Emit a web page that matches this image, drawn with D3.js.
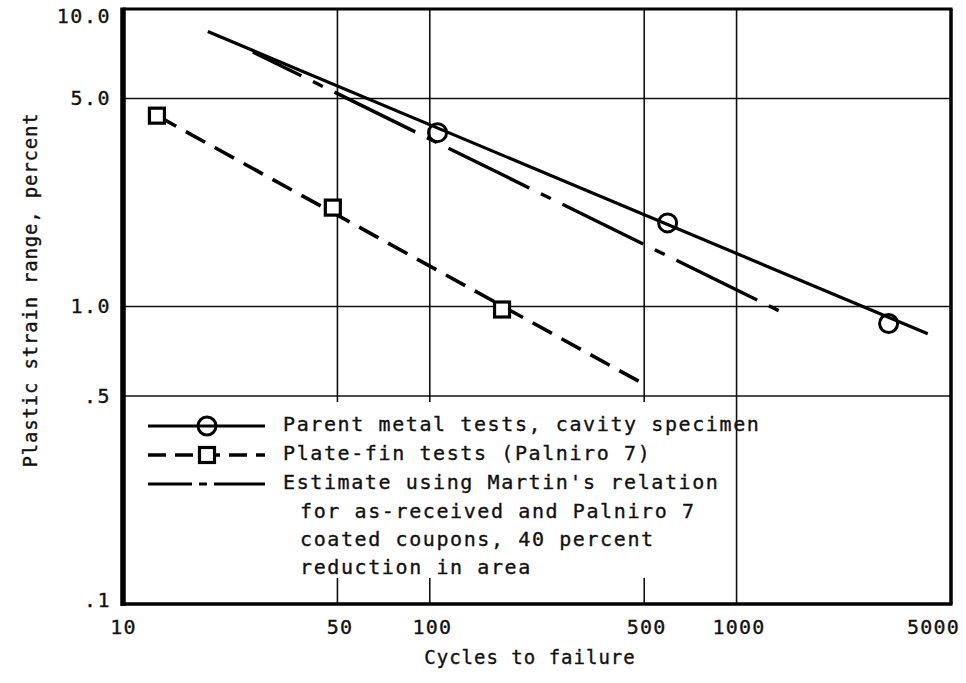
<!DOCTYPE html>
<html>
<head>
<meta charset="utf-8">
<script src="https://cdn.jsdelivr.net/npm/d3@7"></script>
<style>
  html, body { margin: 0; padding: 0; background: #fff; }
  svg { display: block; }
  text { font-family: "DejaVu Sans Mono", "Liberation Mono", monospace; fill: #111; stroke: #111; stroke-width: 0.35px; }
</style>
</head>
<body>
<svg id="chart" width="966" height="683"></svg>
<script>
// Axis ticks
const xTickValues = [10, 50, 100, 500, 1000, 5000];
const xTickLabels = ["10", "50", "100", "500", "1000", "5000"];
const yTickValues = [10, 5, 1, 0.5, 0.1];
const yTickLabels = ["10.0", "5.0", "1.0", ".5", ".1"];

// Parent metal tests, cavity specimen
const parentCycles = [106, 596, 3130];
const parentStrain = [3.84, 1.91, 0.877];
const parentFitCycles = [18.9, 4200];
const parentFitStrain = [8.4, 0.81];

// Plate-fin tests (Palniro 7)
const plateCycles = [12.9, 48.3, 172];
const plateStrain = [4.38, 2.15, 0.977];
const plateFitCycles = [12.9, 501];
const plateFitStrain = [4.38, 0.547];

// Estimate using Martin's relation
const estCycles = [26.5, 1455];
const estStrain = [7.17, 0.94];

const legendLines = [
  "Parent metal tests, cavity specimen",
  "Plate-fin tests (Palniro 7)",
  "Estimate using Martin's relation",
  "for as-received and Palniro 7",
  "coated coupons, 40 percent",
  "reduction in area"
];

const svg = d3.select("#chart");
const plotLeft = 123, plotRight = 951, plotTop = 9, plotBottom = 604;

const x = d3.scaleLog().domain([10, 5000]).range([plotLeft, plotRight]);
const y = d3.scaleLog().domain([0.1, 10]).range([plotBottom, plotTop]);

const zip = (a, b) => a.map((v, i) => [v, b[i]]);
const line = d3.line().x(d => x(d[0])).y(d => y(d[1]));

// Grid lines
const grid = svg.append("g").attr("stroke", "#111").attr("stroke-width", 1.6);
[5, 1, 0.5].forEach(v => {
  grid.append("line").attr("x1", plotLeft).attr("x2", plotRight)
    .attr("y1", y(v)).attr("y2", y(v));
});
// 50, 100, 500 stop at the 0.5 line; 1000 runs full height
[50, 100, 500].forEach(v => {
  grid.append("line").attr("x1", x(v)).attr("x2", x(v))
    .attr("y1", plotTop).attr("y2", y(0.5) + 6);
  grid.append("line").attr("x1", x(v)).attr("x2", x(v))
    .attr("y1", plotBottom - 26).attr("y2", plotBottom);
});
grid.append("line").attr("x1", x(1000)).attr("x2", x(1000))
  .attr("y1", plotTop).attr("y2", plotBottom);

// Frame
const frame = svg.append("g").attr("stroke", "#000").attr("fill", "none");
frame.append("line").attr("x1", plotLeft).attr("x2", plotRight + 1.5).attr("y1", plotTop).attr("y2", plotTop).attr("stroke-width", 3);
frame.append("line").attr("x1", plotLeft).attr("x2", plotRight + 1.5).attr("y1", plotBottom).attr("y2", plotBottom).attr("stroke-width", 3.5);
frame.append("line").attr("x1", plotRight).attr("x2", plotRight).attr("y1", plotTop).attr("y2", plotBottom).attr("stroke-width", 3.5);
frame.append("line").attr("x1", plotLeft).attr("x2", plotLeft).attr("y1", plotTop - 1.5).attr("y2", plotBottom + 2).attr("stroke-width", 5.5);

// Axes (labels only)
const xAxis = d3.axisBottom(x).tickValues(xTickValues)
  .tickFormat((d, i) => xTickLabels[i]).tickSize(0).tickPadding(0);
const gx = svg.append("g").attr("transform", `translate(0,${plotBottom + 16})`).call(xAxis);
gx.select(".domain").remove();
gx.selectAll("text").attr("font-size", 20).attr("letter-spacing", 1.2)
  .attr("font-family", "DejaVu Sans Mono").attr("fill", "#111")
  .attr("dx", (d, i) => i === xTickValues.length - 1 ? -18 : (i === 0 ? 0 : 2));

const yAxis = d3.axisLeft(y).tickValues(yTickValues)
  .tickFormat((d, i) => yTickLabels[i]).tickSize(0).tickPadding(12);
const gy = svg.append("g").attr("transform", `translate(${plotLeft},0)`).call(yAxis);
gy.select(".domain").remove();
gy.selectAll("text").attr("font-size", 20).attr("letter-spacing", 1.5)
  .attr("font-family", "DejaVu Sans Mono").attr("fill", "#111")
  .attr("dy", (d, i) => i === 0 ? "0.65em" : (i === yTickValues.length - 1 ? "0.1em" : "0.32em"));

// Axis titles
svg.append("text").attr("x", 530).attr("y", 664).attr("text-anchor", "middle")
  .attr("font-size", 19).attr("letter-spacing", 1.0).text("Cycles to failure");
svg.append("text").attr("transform", `translate(37,290) rotate(-90)`).attr("text-anchor", "middle")
  .attr("font-size", 19).attr("letter-spacing", 0.8).text("Plastic strain range, percent");

// Series
const estDash = "90,13,11,13";
svg.append("path").datum(zip(estCycles, estStrain)).attr("d", line)
  .attr("fill", "none").attr("stroke", "#000").attr("stroke-width", 3.4)
  .attr("stroke-dasharray", estDash).attr("stroke-dashoffset", 36);

svg.append("path").datum(zip(parentFitCycles, parentFitStrain)).attr("d", line)
  .attr("fill", "none").attr("stroke", "#000").attr("stroke-width", 3.2);

svg.append("path").datum(zip(plateFitCycles, plateFitStrain)).attr("d", line)
  .attr("fill", "none").attr("stroke", "#000").attr("stroke-width", 3.6)
  .attr("stroke-dasharray", "22,11");

svg.append("g").selectAll("circle").data(zip(parentCycles, parentStrain)).join("circle")
  .attr("cx", d => x(d[0])).attr("cy", d => y(d[1])).attr("r", 9)
  .attr("fill", "none").attr("stroke", "#000").attr("stroke-width", 3);

svg.append("g").selectAll("rect").data(zip(plateCycles, plateStrain)).join("rect")
  .attr("x", d => x(d[0]) - 7.5).attr("y", d => y(d[1]) - 7.5)
  .attr("width", 15).attr("height", 15)
  .attr("fill", "#fff").attr("stroke", "#000").attr("stroke-width", 3.2);

// Legend
const lg = svg.append("g");
const rowY = [424, 453, 482, 511, 539, 567];
const textX = [283, 283, 283, 300, 300, 300];
lg.selectAll("text").data(legendLines).join("text")
  .attr("x", (d, i) => textX[i]).attr("y", (d, i) => rowY[i] + 7)
  .attr("font-size", 20).attr("letter-spacing", 1.6).text(d => d);

const sx1 = 148, sx2 = 265, sxm = 207;
lg.append("line").attr("x1", sx1).attr("x2", sx2).attr("y1", rowY[0] + 2).attr("y2", rowY[0] + 2)
  .attr("stroke", "#000").attr("stroke-width", 3);
lg.append("circle").attr("cx", sxm).attr("cy", rowY[0] + 2).attr("r", 9)
  .attr("fill", "none").attr("stroke", "#000").attr("stroke-width", 3);

lg.append("line").attr("x1", sx1).attr("x2", sx2).attr("y1", rowY[1] + 2).attr("y2", rowY[1] + 2)
  .attr("stroke", "#000").attr("stroke-width", 3.4).attr("stroke-dasharray", "18,9");
lg.append("rect").attr("x", sxm - 7.5).attr("y", rowY[1] + 2 - 7.5).attr("width", 15).attr("height", 15)
  .attr("fill", "#fff").attr("stroke", "#000").attr("stroke-width", 3.2);

lg.append("line").attr("x1", sx1).attr("x2", sx2).attr("y1", rowY[2] + 2).attr("y2", rowY[2] + 2)
  .attr("stroke", "#000").attr("stroke-width", 3).attr("stroke-dasharray", "44,7,8,7,60");
</script>
</body>
</html>
